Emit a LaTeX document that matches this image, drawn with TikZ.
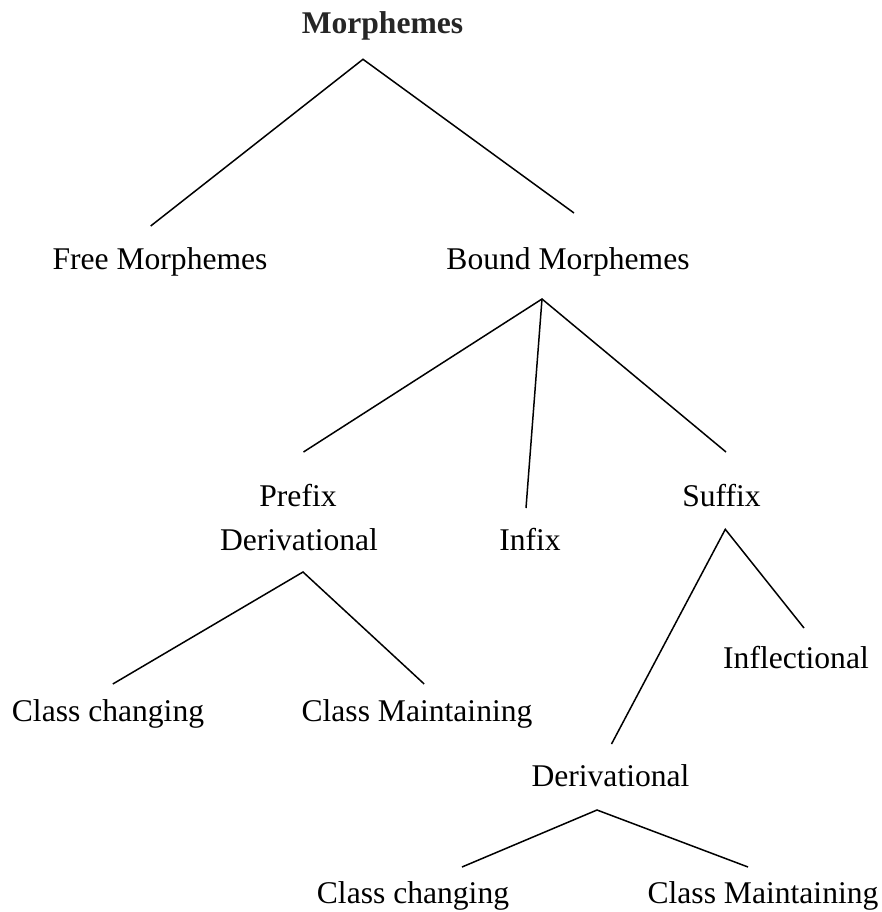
\documentclass[tikz,border=0pt]{standalone}
\usepackage{fontspec}
\setmainfont{Liberation Serif}
\begin{document}
\begin{tikzpicture}[x=1bp,y=-1bp,
  lbl/.style={anchor=base,inner sep=0pt,outer sep=0pt,font=\fontsize{31.6bp}{38bp}\selectfont},
  rootlbl/.style={lbl,font=\fontsize{31.6bp}{38bp}\selectfont\bfseries,text=black!85},
  branch/.style={draw=black,line width=1.5bp,line cap=butt,line join=miter}]
\useasboundingbox (0,0) rectangle (882,912);

% labels (placed by centre x and baseline y)
\node[rootlbl] (morph) at (382.5,33.3) {Morphemes};
\node[lbl] (free)   at (160,269.5) {Free Morphemes};
\node[lbl] (bound)  at (568,269.5) {Bound Morphemes};
\node[lbl] (prefix) at (298,506.7) {Prefix};
\node[lbl] (prefder) at (299,550) {Derivational};
\node[lbl] (infix)  at (530,550) {Infix};
\node[lbl] (suffix) at (721.5,506.7) {Suffix};
\node[lbl] (pcc)    at (108,721) {Class changing};
\node[lbl] (pcm)    at (417,721) {Class Maintaining};
\node[lbl] (infl)   at (796,668) {Inflectional};
\node[lbl] (sder)   at (610.5,786.7) {Derivational};
\node[lbl] (scc)    at (413,903) {Class changing};
\node[lbl] (scm)    at (763,903) {Class Maintaining};

% branching points and line ends
\coordinate (morphTop)   at (363,59.3);
\coordinate (freeEnd)    at (150.7,226);
\coordinate (boundEnd)   at (574,213);
\coordinate (boundTop)   at (542,299);
\coordinate (prefixEnd)  at (303.5,452);
\coordinate (infixEnd)   at (526,508);
\coordinate (suffixEnd)  at (726,452);
\coordinate (prefTop)    at (303,572);
\coordinate (pccEnd)     at (112.8,684);
\coordinate (pcmEnd)     at (424.2,684);
\coordinate (suffTop)    at (725.3,529.3);
\coordinate (sderEnd)    at (611.5,744);
\coordinate (inflEnd)    at (804,628);
\coordinate (sderTop)    at (597,810);
\coordinate (sccEnd)     at (462,867);
\coordinate (scmEnd)     at (748,867);

% branches
\draw[branch] (freeEnd) -- (morphTop) -- (boundEnd);
\draw[branch] (prefixEnd) -- (boundTop) -- (suffixEnd);
\draw[branch] (boundTop) -- (infixEnd);
\draw[branch] (pccEnd) -- (prefTop) -- (pcmEnd);
\draw[branch] (sderEnd) -- (suffTop) -- (inflEnd);
\draw[branch] (sccEnd) -- (sderTop) -- (scmEnd);
\end{tikzpicture}
\end{document}
